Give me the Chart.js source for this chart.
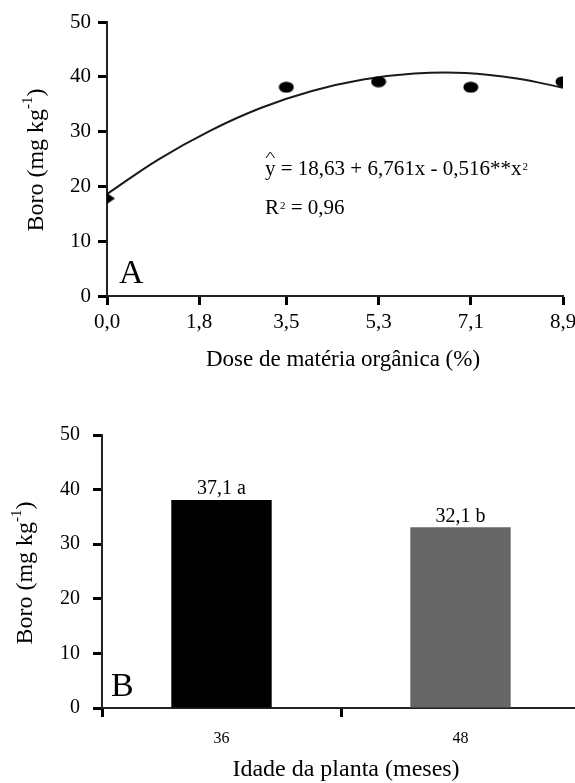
<!DOCTYPE html>
<html><head><meta charset="utf-8">
<script src="https://cdn.jsdelivr.net/npm/chart.js@4"></script>
<style>
html,body{margin:0;padding:0;background:#fff;overflow:hidden;width:575px;height:783px;}
#ca{position:absolute;left:0;top:0;}
#cb{position:absolute;left:0;top:380px;}
</style></head><body>
<canvas id="ca" width="575" height="380"></canvas>
<canvas id="cb" width="590" height="403"></canvas>
<script>
// ---- data ----
const doseTicks = [0.0, 1.8, 3.5, 5.3, 7.1, 8.9];
const doseX = [0.0, 3.5, 5.3, 7.1, 8.9];
const boroA = [17.8, 38.1, 39.1, 38.1, 39.1];
const fitX = [0, 1, 2, 3, 4, 5, 6, 7, 8, 8.9];
const fitY = [18.6, 24.9, 30.1, 34.3, 37.4, 39.5, 40.6, 40.7, 39.7, 38.0];
const idade = ['36', '48'];
const boroB = [38.1, 33.1];
const boroBLabels = ['37,1 a', '32,1 b'];
const barColors = ['#000000', '#666666'];

const FAM = "'Liberation Serif', 'Times New Roman', serif";
Chart.defaults.font.family = FAM;
Chart.defaults.color = '#000';

function marker(kind) {
  const c = document.createElement('canvas');
  c.width = 16; c.height = 12;
  const g = c.getContext('2d');
  g.fillStyle = '#000';
  g.beginPath();
  if (kind === 'd') { g.moveTo(0, 6); g.lineTo(8, 0.5); g.lineTo(16, 6); g.lineTo(8, 11.5); g.closePath(); }
  else { g.ellipse(8, 6, 7.5, 5.5, 0, 0, Math.PI * 2); }
  g.fill();
  return c;
}
const mD = marker('d'), mE = marker('e');

function font(sz) { return sz + 'px ' + FAM; }

// rotated y title with superscript
function drawYTitle(ctx, cx, cy, sz) {
  const parts = [['Boro (mg kg', sz, 0], ['-1', Math.round(sz * 0.62), -Math.round(sz * 0.38)], [')', sz, 0]];
  ctx.save();
  let total = 0;
  parts.forEach(p => { ctx.font = font(p[1]); total += ctx.measureText(p[0]).width; });
  ctx.translate(cx, cy);
  ctx.rotate(-Math.PI / 2);
  ctx.textBaseline = 'middle';
  ctx.textAlign = 'left';
  ctx.fillStyle = '#000';
  let x = -total / 2;
  parts.forEach(p => { ctx.font = font(p[1]); ctx.fillText(p[0], x, p[2]); x += ctx.measureText(p[0]).width; });
  ctx.restore();
}

function gridOpts(offset) {
  return { offset: !!offset, drawOnChartArea: false, drawTicks: true, tickLength: 9, tickWidth: 3, tickColor: '#000' };
}
const borderOpts = { color: '#222', width: 2 };
function zeroPad(s) { s.paddingLeft = 0; s.paddingRight = 0; s.paddingTop = 0; s.paddingBottom = 0; }

// ---- Chart A ----
const textA = {
  id: 'textA',
  afterDraw(chart) {
    const ctx = chart.ctx;
    ctx.save();
    ctx.fillStyle = '#000';
    drawYTitle(ctx, 37, 160, 24);
    ctx.font = font(23); ctx.textAlign = 'center'; ctx.textBaseline = 'middle';
    ctx.fillText('Dose de matéria orgânica (%)', 343, 360);
    ctx.font = font(34); ctx.textAlign = 'left';
    ctx.fillText('A', 119, 274);
    // equation
    let x = 265, y = 169;
    ctx.font = font(21);
    ctx.fillText('y', x, y);
    const yw = ctx.measureText('y').width;
    ctx.strokeStyle = '#000'; ctx.lineWidth = 1;
    ctx.beginPath(); ctx.moveTo(x + 1, y - 11); ctx.lineTo(x + yw / 2, y - 17); ctx.lineTo(x + yw - 1, y - 11); ctx.stroke();
    x += yw;
    const eq = ' = 18,63 + 6,761x - 0,516**x';
    ctx.fillText(eq, x, y); x += ctx.measureText(eq).width;
    ctx.font = font(11); ctx.fillText('2', x + 1, y - 2);
    x = 265; y = 208;
    ctx.font = font(21); ctx.fillText('R', x, y); x += ctx.measureText('R').width;
    ctx.font = font(11); ctx.fillText('2', x + 1, y - 2); x += ctx.measureText('2').width + 1;
    ctx.font = font(21); ctx.fillText(' = 0,96', x, y);
    ctx.restore();
  }
};

new Chart(document.getElementById('ca'), {
  type: 'scatter',
  data: {
    datasets: [
      { type: 'line', data: fitX.map((v, i) => ({ x: v, y: fitY[i] })), borderColor: '#1a1a1a', borderWidth: 2, pointRadius: 0, tension: 0.4, fill: false, order: 2 },
      { data: doseX.map((v, i) => ({ x: v, y: boroA[i] })), pointStyle: [mD, mE, mE, mE, mE], pointRadius: 7, backgroundColor: '#000', borderColor: '#000', order: 1 }
    ]
  },
  options: {
    responsive: false, animation: false,
    layout: { padding: { top: 22, right: 12, left: 0, bottom: 0 } },
    plugins: { legend: { display: false }, tooltip: { enabled: false } },
    scales: {
      x: {
        type: 'linear', min: 0, max: 8.9,
        grid: gridOpts(false), border: borderOpts,
        afterBuildTicks: s => { s.ticks = doseTicks.map(v => ({ value: v })); },
        ticks: { callback: v => Number(v).toFixed(1).replace('.', ','), font: { family: FAM, size: 21 }, color: '#000', padding: 5, autoSkip: false, maxRotation: 0 },
        afterFit: s => { s.height = 84; zeroPad(s); }
      },
      y: {
        min: 0, max: 50,
        grid: gridOpts(false), border: borderOpts,
        ticks: { stepSize: 10, font: { family: FAM, size: 21 }, color: '#000', padding: 7 },
        afterFit: s => { s.width = 107; zeroPad(s); }
      }
    }
  },
  plugins: [textA]
});

// ---- Chart B ----
const textB = {
  id: 'textB',
  afterDraw(chart) {
    const ctx = chart.ctx;
    ctx.save();
    ctx.fillStyle = '#000';
    drawYTitle(ctx, 26, 193, 24);
    ctx.font = font(24); ctx.textAlign = 'center'; ctx.textBaseline = 'middle';
    ctx.fillText('Idade da planta (meses)', 346, 390);
    ctx.font = font(34); ctx.textAlign = 'left';
    ctx.fillText('B', 111, 307);
    ctx.font = font(20); ctx.textAlign = 'center'; ctx.textBaseline = 'bottom';
    chart.getDatasetMeta(0).data.forEach((el, i) => {
      ctx.fillText(boroBLabels[i], el.x, el.y - 1);
    });
    ctx.restore();
  }
};

new Chart(document.getElementById('cb'), {
  type: 'bar',
  data: {
    labels: idade,
    datasets: [{ data: boroB, backgroundColor: barColors, borderWidth: 0, barPercentage: 0.42, categoryPercentage: 1 }]
  },
  options: {
    responsive: false, animation: false,
    layout: { padding: { top: 55, right: 10, left: 0, bottom: 0 } },
    plugins: { legend: { display: false }, tooltip: { enabled: false } },
    scales: {
      x: {
        grid: gridOpts(true), border: borderOpts,
        ticks: { font: { family: FAM, size: 16 }, color: '#000', padding: 12 },
        afterFit: s => { s.height = 75; zeroPad(s); }
      },
      y: {
        min: 0, max: 50,
        grid: gridOpts(false), border: borderOpts,
        ticks: { stepSize: 10, font: { family: FAM, size: 20 }, color: '#000', padding: 13 },
        afterFit: s => { s.width = 102; zeroPad(s); }
      }
    }
  },
  plugins: [textB]
});
</script>
</body></html>
